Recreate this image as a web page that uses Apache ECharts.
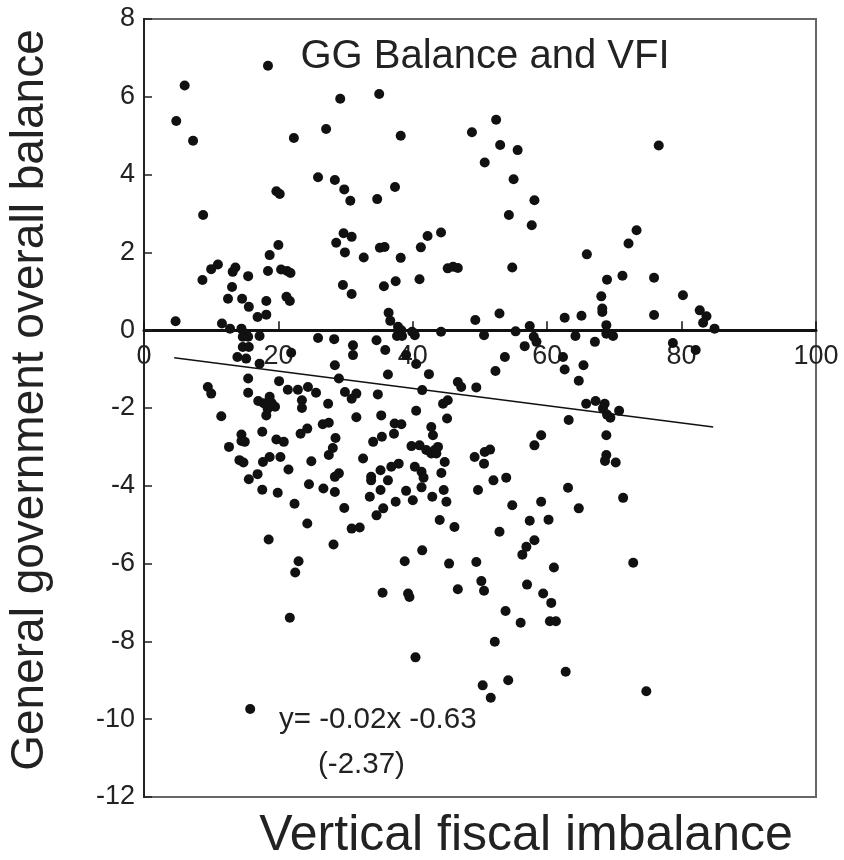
<!DOCTYPE html>
<html>
<head>
<meta charset="utf-8">
<title>GG Balance and VFI</title>
<script src="https://cdn.jsdelivr.net/npm/echarts@6/dist/echarts.min.js"></script>
<style>
  html, body { margin: 0; padding: 0; background: #fff; }
  #chart { width: 844px; height: 860px; }
</style>
</head>
<body>
<div id="chart"></div>
<script>
// [vertical fiscal imbalance, GG overall balance]
var pointsTop = [
  [18.45,6.80],[6.05,6.29],[4.8,5.38],[7.3,4.87],[22.3,4.94],[27.1,5.17],[29.2,5.95],[35.0,6.07],
  [25.9,3.93],[28.4,3.86],[29.8,3.62],[30.7,3.33],[34.7,3.37],[19.7,3.57],[20.2,3.50],[8.8,2.96],
  [38.2,5.0],[48.8,5.09],[52.4,5.41],[53.0,4.76],[55.6,4.63],[50.7,4.31],[55.0,3.88],[37.35,3.68],
  [58.1,3.34],[54.3,2.96],[76.6,4.75],[57.7,2.70],[44.2,2.51],[73.3,2.57]
];
var pointsPositive = [
  [20.0,2.19],[18.7,1.93],[28.6,2.25],[29.7,2.49],[30.9,2.40],[29.9,2.0],[32.7,1.87],[35.1,2.12],
  [35.8,2.14],[35.7,1.13],[29.6,1.16],[30.9,0.93],[8.7,1.29],[10.0,1.57],[11.0,1.69],[13.2,1.50],
  [13.6,1.61],[15.5,1.39],[13.1,1.11],[12.5,0.81],[14.6,0.81],[15.6,0.60],[16.9,0.34],[18.2,0.75],
  [18.2,0.40],[18.45,1.52],[20.4,1.56],[21.3,1.52],[21.8,1.47],[21.2,0.86],[21.7,0.75],[4.7,0.23],
  [11.6,0.17],[12.8,0.04],[14.5,0.04],[42.2,2.42],[41.2,2.13],[38.2,1.86],[45.2,1.59],[46.0,1.63],
  [46.7,1.60],[41.0,1.31],[37.45,1.26],[54.8,1.61],[65.9,1.95],[68.9,1.30],[68.05,0.87],[68.2,0.56],
  [68.2,0.47],[36.4,0.45],[36.65,0.24],[37.8,0.09],[38.3,0.0],[49.3,0.26],[52.9,0.43],[57.4,0.11],
  [62.6,0.32],[65.1,0.37],[68.8,0.13],[72.1,2.23],[71.2,1.40],[75.9,1.35],[80.2,0.90],[75.9,0.39],
  [82.7,0.51],[83.7,0.36],[83.2,0.19],[84.9,0.04]
];
var pointsNearZero = [
  [15.2,-0.09],[14.7,-0.17],[15.5,-0.17],[17.2,-0.15],[14.7,-0.43],[15.6,-0.43],[13.9,-0.69],[15.2,-0.73],
  [17.2,-0.86],[21.9,-0.58],[15.5,-1.24],[20.1,-1.31],[21.4,-1.53],[9.5,-1.46],[10.0,-1.63],[15.5,-1.61],
  [22.9,-1.53],[24.4,-1.46],[25.6,-1.61],[25.9,-0.2],[28.3,-0.23],[31.1,-0.39],[31.1,-0.64],[34.6,-0.26],
  [28.4,-0.90],[29.0,-1.24],[29.9,-1.59],[31.6,-1.63],[34.8,-1.65],[35.9,-0.51],[37.65,-0.15],[38.4,-0.15],
  [39.9,-0.04],[40.3,-0.13],[44.2,-0.04],[50.6,-0.13],[55.3,-0.03],[58.0,-0.17],[58.4,-0.30],[56.65,-0.41],
  [53.7,-0.69],[52.3,-1.05],[64.2,-0.15],[67.1,-0.30],[68.8,-0.09],[62.35,-0.69],[62.6,-1.01],[65.4,-0.90],
  [64.7,-1.30],[39.0,-0.64],[40.5,-0.87],[42.4,-1.13],[36.3,-1.14],[41.4,-1.54],[46.7,-1.33],[47.2,-1.46],
  [49.45,-1.47],[69.8,-0.15],[78.7,-0.33],[82.1,-0.51]
];
var pointsMid = [
  [17.0,-1.82],[17.8,-1.88],[18.7,-1.71],[19.0,-1.87],[19.5,-1.97],[18.4,-2.02],[18.2,-2.19],
  [23.5,-1.8],[23.5,-2.0],[27.4,-1.89],[30.9,-1.76],[31.6,-2.24],[35.3,-2.19],[11.5,-2.21],[17.6,-2.61],
  [14.5,-2.68],[14.5,-2.85],[15.0,-2.87],[12.65,-3.0],[19.7,-2.81],[20.8,-2.87],[23.3,-2.66],[24.3,-2.53],
  [26.6,-2.42],[27.5,-2.38],[28.5,-2.77],[28.1,-3.03],[27.5,-3.21],[34.1,-2.87],[35.4,-2.74],
  [44.5,-1.89],[45.2,-1.80],[40.5,-2.07],[45.1,-2.27],[37.3,-2.40],[38.3,-2.42],[37.2,-2.66],[42.75,-2.49],
  [43.0,-2.70],[39.8,-2.98],[41.0,-2.96],[42.0,-3.08],[43.25,-3.08],[43.75,-3.0],[42.75,-3.17],[43.5,-3.17],
  [63.2,-2.31],[59.1,-2.70],[58.1,-2.96],[65.8,-1.89],[67.2,-1.82],[68.55,-1.89],[68.3,-2.01],[68.9,-2.17],
  [69.4,-2.25],[70.7,-2.07],[68.8,-2.70]
];
var pointsLow = [
  [14.2,-3.34],[14.8,-3.40],[17.7,-3.39],[18.7,-3.26],[20.3,-3.26],[21.5,-3.58],[24.9,-3.37],[32.6,-3.30],
  [15.6,-3.83],[16.9,-3.70],[17.6,-4.10],[19.9,-4.18],[22.4,-4.46],[24.55,-3.96],[26.7,-4.07],[28.4,-4.16],
  [28.4,-3.77],[29.0,-3.68],[33.8,-3.77],[33.8,-3.86],[33.6,-4.28],[35.2,-3.60],[35.2,-4.11],[34.6,-4.76],
  [35.6,-4.58],[29.8,-4.57],[24.3,-4.97],[44.75,-3.39],[44.25,-3.67],[40.3,-3.51],[41.3,-3.64],[41.6,-3.79],
  [41.3,-4.04],[39.0,-4.13],[40.0,-4.37],[37.9,-3.43],[36.8,-3.51],[36.3,-3.86],[37.45,-4.41],[42.9,-4.28],
  [44.6,-4.11],[45.0,-4.41],[44.0,-4.88],[49.2,-3.26],[50.7,-3.13],[51.5,-3.07],[50.6,-3.43],[52.0,-3.86],
  [53.9,-3.79],[49.7,-4.11],[54.8,-4.50],[59.1,-4.41],[57.4,-4.90],[60.2,-4.87],[63.1,-4.05],[64.7,-4.58],
  [68.8,-3.21],[68.6,-3.36],[70.2,-3.40],[71.3,-4.31]
];
var pointsBottom = [
  [30.9,-5.10],[32.1,-5.07],[18.55,-5.38],[28.2,-5.51],[23.0,-5.94],[22.5,-6.23],[35.5,-6.75],[46.2,-5.06],
  [52.9,-5.18],[58.1,-5.40],[56.9,-5.57],[56.3,-5.77],[61.0,-6.10],[41.4,-5.66],[38.8,-5.94],[45.4,-6.0],
  [49.45,-5.96],[50.2,-6.45],[50.6,-6.70],[46.7,-6.66],[39.3,-6.77],[39.5,-6.86],[57.0,-6.54],[59.4,-6.77],
  [60.6,-7.01],[53.8,-7.22],[72.8,-5.98],[21.7,-7.39],[15.8,-9.74],[56.05,-7.52],[60.4,-7.48],[61.3,-7.48],
  [52.2,-8.01],[40.4,-8.41],[62.75,-8.78],[50.4,-9.13],[51.6,-9.45],[54.2,-9.0],[74.75,-9.28]
];
// fitted line as drawn (ends of the segment)
var fitLine = [[4.5,-0.71],[84.7,-2.49]];
var yMin = -12, yMax = 8;
var titleText = 'GG Balance and VFI';
var xTitle = 'Vertical fiscal imbalance';
var yTitle = 'General government overall balance';
var eqText = 'y= -0.02x -0.63';
var tStat = '(-2.37)';

var points = pointsTop.concat(pointsPositive, pointsNearZero, pointsMid, pointsLow, pointsBottom);
var font = '"Liberation Sans", Arial, sans-serif';
var textColor = '#222';

var gridTop = 19, gridBottom = 63;
var plotH = 860 - gridTop - gridBottom;
// x axis sits on y = 0 with its labels under it
var xOffset = -plotH * (0 - yMin) / (yMax - yMin);

var myChart = echarts.init(document.getElementById('chart'));
var option = {
    backgroundColor: '#fff',
    animation: false,
    title: {
        text: titleText,
        left: 480, top: 32, textAlign: 'center',
        textStyle: { fontFamily: font, fontSize: 40, fontWeight: 'normal', color: textColor }
    },
    grid: {
        left: 144, right: 28, top: gridTop, bottom: gridBottom,
        show: true, borderColor: '#666', borderWidth: 2, backgroundColor: 'transparent'
    },
    xAxis: {
        type: 'value', min: 0, max: 100, interval: 20,
        offset: xOffset,
        axisLine: { onZero: false, lineStyle: { color: '#111', width: 3 } },
        axisTick: { inside: true, length: 9, lineStyle: { color: '#111', width: 1.5 } },
        axisLabel: { margin: 13, fontFamily: font, fontSize: 27, color: textColor },
        splitLine: { show: false }
    },
    yAxis: {
        type: 'value', min: yMin, max: yMax, interval: 2,
        axisLine: { show: true, lineStyle: { color: '#222', width: 2 } },
        axisTick: { inside: true, length: 8, lineStyle: { color: '#222', width: 1.5 } },
        axisLabel: { margin: 9, fontFamily: font, fontSize: 27, color: textColor },
        splitLine: { show: false }
    },
    graphic: [
        { type: 'text', x: 30, y: 400, rotation: Math.PI / 2,
          style: { text: yTitle, fontFamily: font, fontSize: 46, fill: textColor, align: 'center', verticalAlign: 'middle' } },
        { type: 'text', x: 526, y: 836,
          style: { text: xTitle, fontFamily: font, fontSize: 50, fill: textColor, align: 'center', verticalAlign: 'middle' } },
        { type: 'text', x: 279, y: 720,
          style: { text: eqText, fontFamily: font, fontSize: 29.5, fill: textColor, align: 'left', verticalAlign: 'middle' } },
        { type: 'text', x: 318, y: 765,
          style: { text: tStat, fontFamily: font, fontSize: 29.5, fill: textColor, align: 'left', verticalAlign: 'middle' } }
    ],
    series: [
        {
            name: 'countries',
            type: 'scatter',
            symbolSize: 10,
            itemStyle: { color: '#111', opacity: 1 },
            data: points,
            z: 3
        },
        {
            name: 'fit',
            type: 'line',
            symbol: 'none',
            lineStyle: { color: '#111', width: 1.5 },
            data: fitLine,
            z: 4
        }
    ]
};
myChart.setOption(option);
</script>
</body>
</html>
